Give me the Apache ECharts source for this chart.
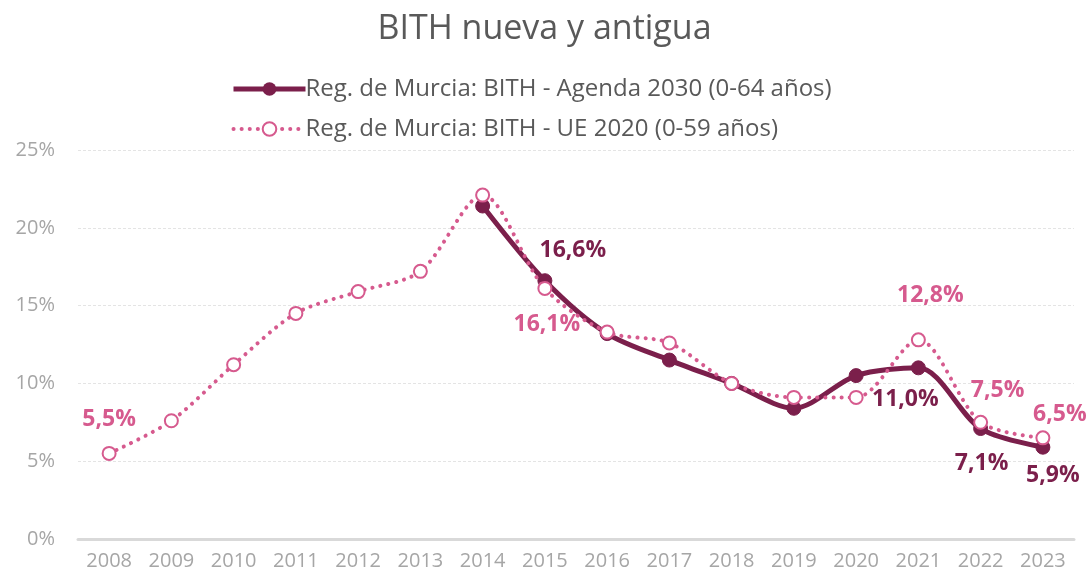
<!DOCTYPE html>
<html>
<head>
<meta charset="utf-8">
<script src="https://cdn.jsdelivr.net/npm/echarts@6/dist/echarts.min.js"></script>
<style>
  html, body { margin: 0; padding: 0; background: #fff; }
  #chart { width: 1089px; height: 579px; }
</style>
</head>
<body>
<div id="chart"></div>
<script>
// Datos
const years = ['2008', '2009', '2010', '2011', '2012', '2013', '2014', '2015',
  '2016', '2017', '2018', '2019', '2020', '2021', '2022', '2023'];
const agenda2030 = [null, null, null, null, null, null, 21.4, 16.6,
  13.2, 11.5, 10.0, 8.4, 10.5, 11.0, 7.1, 5.9];
const ue2020 = [5.5, 7.6, 11.2, 14.5, 15.9, 17.2, 22.1, 16.1,
  13.3, 12.6, 10.0, 9.1, 9.1, 12.8, 7.5, 6.5];
const yTicks = [0, 5, 10, 15, 20, 25];

// Posición de las etiquetas visibles (año -> desplazamiento)
const agendaLabels = { '2015': [28, -30], '2021': [-13, 32], '2022': [1, 35], '2023': [10, 28] };
const ueLabels = { '2008': [0, -34], '2015': [2, 36], '2021': [12, -44], '2022': [17, -32], '2023': [17, -23] };

const dark = '#7B1F4B';
const pink = '#D65A8E';
const font = '"Open Sans", Roboto, sans-serif';

function withLabels(values, labels, color) {
  return values.map((v, i) => {
    const off = labels[years[i]];
    if (v == null || !off) return v;
    return {
      value: v,
      label: {
        show: true,
        position: 'inside',
        offset: off,
        formatter: (p) => p.value.toFixed(1).replace('.', ',') + '%',
        color: color,
        fontSize: 23,
        fontWeight: 'bold',
        fontFamily: font
      }
    };
  });
}

const nameAgenda = 'Reg. de Murcia: BITH - Agenda 2030 (0-64 años)';
const nameUe = 'Reg. de Murcia: BITH - UE 2020 (0-59 años)';

const chart = echarts.init(document.getElementById('chart'));
chart.setOption({
  animation: false,
  title: {
    text: 'BITH nueva y antigua',
    left: 'center',
    top: 7,
    textStyle: { color: '#595959', fontSize: 34, fontWeight: 'normal', fontFamily: font }
  },
  legend: {
    orient: 'vertical',
    left: 226,
    top: 72,
    itemWidth: 72,
    itemHeight: 17,
    itemGap: 16,
    textStyle: { color: '#595959', fontSize: 24, fontFamily: font, padding: [0, 0, 0, -5] },
    data: [
      { name: nameAgenda, lineStyle: { width: 5 } },
      { name: nameUe, lineStyle: { width: 4 } }
    ]
  },
  grid: { left: 78, right: 15, top: 150, bottom: 40 },
  xAxis: {
    type: 'category',
    data: years,
    boundaryGap: true,
    axisLine: { lineStyle: { color: '#D9D9D9', width: 3 } },
    axisTick: { show: false },
    axisLabel: { interval: 0, color: '#A6A6A6', fontSize: 20, fontFamily: font, margin: 12 }
  },
  yAxis: {
    type: 'value',
    min: 0,
    max: 25,
    interval: 5,
    axisLine: { show: false },
    axisTick: { show: false },
    axisLabel: {
      color: '#A6A6A6', fontSize: 20, fontFamily: font, margin: 23,
      formatter: (v) => yTicks.includes(v) ? v + '%' : ''
    },
    splitLine: { lineStyle: { color: '#E4E4E4', type: [3, 2], width: 1 } }
  },
  series: [
    {
      name: nameUe,
      type: 'line',
      data: withLabels(ue2020, ueLabels, pink),
      smooth: 0.3,
      symbol: 'circle',
      symbolSize: 13,
      itemStyle: { color: '#fff', borderColor: pink, borderWidth: 2 },
      lineStyle: { color: pink, width: 4, type: [0.1, 8], cap: 'round' },
      z: 3
    },
    {
      name: nameAgenda,
      type: 'line',
      data: withLabels(agenda2030, agendaLabels, dark),
      smooth: 0.3,
      symbol: 'circle',
      symbolSize: 14,
      itemStyle: { color: dark, borderColor: dark },
      lineStyle: { color: dark, width: 5 },
      z: 2
    }
  ]
});
</script>
</body>
</html>
